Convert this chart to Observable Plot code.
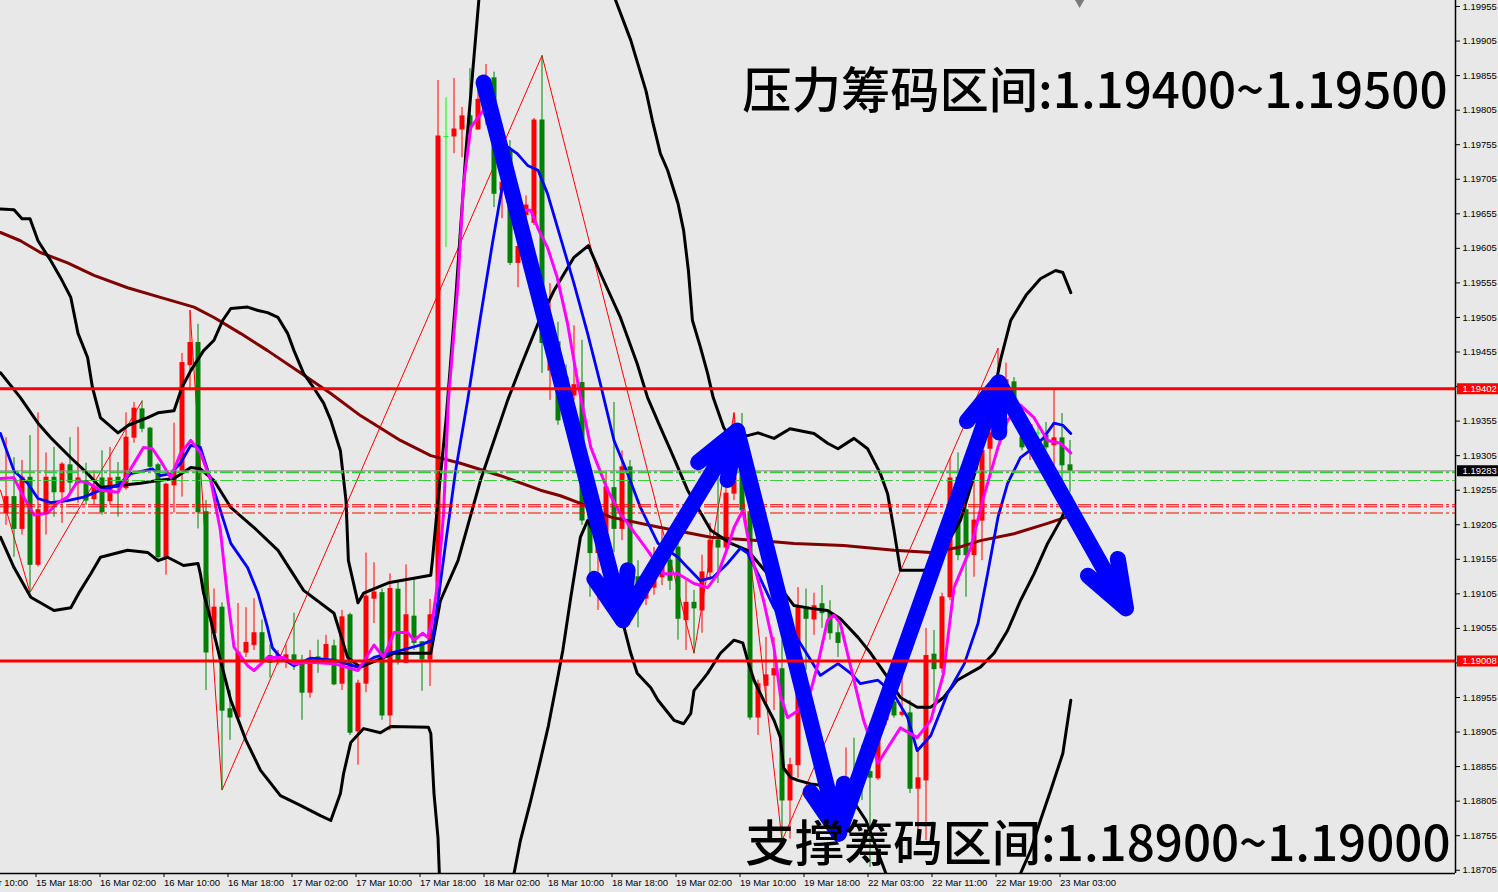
<!DOCTYPE html>
<html><head><meta charset="utf-8">
<script src="https://cdn.jsdelivr.net/npm/d3@7"></script>
<script src="https://cdn.jsdelivr.net/npm/@observablehq/plot@0.6"></script>
<style>
html,body{margin:0;padding:0;background:#e8e8e8;}
#chart{width:1498px;height:892px;overflow:hidden;}
</style></head><body><div id="chart"></div>
<script>
// ---------- DATA ----------
const xTickBars = [-4.5,3.5,11.5,19.5,27.5,35.5,43.5,51.5,59.5,67.5,75.5,83.5,91.5,99.5,107.5,115.5,123.5,131.5];
const xTickLabels = ["15 Mar 10:00","15 Mar 18:00","16 Mar 02:00","16 Mar 10:00","16 Mar 18:00","17 Mar 02:00","17 Mar 10:00","17 Mar 18:00","18 Mar 02:00","18 Mar 10:00","18 Mar 18:00","19 Mar 02:00","19 Mar 10:00","19 Mar 18:00","22 Mar 03:00","22 Mar 11:00","22 Mar 19:00","23 Mar 03:00"];
const yTicks = [1.18705,1.18755,1.18805,1.18855,1.18905,1.18955,1.19005,1.19055,1.19105,1.19155,1.19205,1.19255,1.19305,1.19355,1.19405,1.19455,1.19505,1.19555,1.19605,1.19655,1.19705,1.19755,1.19805,1.19855,1.19905,1.19955];

const open = [1.19222,1.19245,1.19199,1.19273,1.19147,1.19223,1.19273,1.19252,1.19291,1.19265,1.19268,1.19242,1.19272,1.19239,1.19273,1.19258,1.19331,1.19372,1.19344,1.19291,1.19158,1.19262,1.19283,1.19436,1.19468,1.19223,1.19048,1.19085,1.18938,1.18926,1.19020,1.19031,1.19048,1.19015,1.19009,1.19009,1.19016,1.19008,1.18962,1.19013,1.19006,1.19029,1.18975,1.19074,1.18906,1.18975,1.19098,1.19106,1.18929,1.19111,1.19005,1.19072,1.19035,1.19010,1.19103,1.19766,1.19767,1.19777,1.19796,1.19777,1.19797,1.19851,1.19689,1.19747,1.19584,1.19653,1.19642,1.19790,1.19428,1.19469,1.19418,1.19392,1.19410,1.19222,1.19164,1.19194,1.19258,1.19199,1.19288,1.19129,1.19098,1.19114,1.19129,1.19153,1.19172,1.19067,1.19092,1.19081,1.19136,1.19182,1.19172,1.19250,1.19279,1.19223,1.18926,1.18972,1.18987,1.18996,1.18806,1.18857,1.19085,1.19068,1.19090,1.19077,1.19048,1.18832,1.18835,1.18864,1.18847,1.18838,1.18922,1.18948,1.18930,1.18932,1.18823,1.18835,1.19017,1.18997,1.19100,1.19273,1.19226,1.19161,1.19211,1.19315,1.19338,1.19410,1.19411,1.19331,1.19320,1.19337,1.19334,1.19320,1.19330,1.19291];
const high = [1.19331,1.19302,1.19298,1.19334,1.19367,1.19309,1.19317,1.19295,1.19331,1.19346,1.19294,1.19283,1.19312,1.19317,1.19295,1.19367,1.19382,1.19384,1.19346,1.19294,1.19265,1.19352,1.19453,1.19515,1.19495,1.19240,1.19112,1.19092,1.18965,1.19091,1.19085,1.19098,1.19067,1.19031,1.19023,1.19031,1.19077,1.19016,1.19023,1.19038,1.19045,1.19038,1.19081,1.19077,1.18980,1.19164,1.19150,1.19112,1.19134,1.19121,1.19147,1.19126,1.19035,1.19097,1.19848,1.19823,1.19851,1.19809,1.19865,1.19835,1.19871,1.19860,1.19707,1.19761,1.19678,1.19681,1.19793,1.19884,1.19554,1.19498,1.19436,1.19493,1.19472,1.19245,1.19211,1.19279,1.19382,1.19312,1.19298,1.19153,1.19139,1.19172,1.19197,1.19175,1.19182,1.19124,1.19110,1.19161,1.19207,1.19273,1.19269,1.19367,1.19366,1.19240,1.18980,1.19042,1.19042,1.19038,1.18867,1.19114,1.19112,1.19106,1.19117,1.19095,1.19062,1.18882,1.18896,1.18886,1.18875,1.18922,1.18951,1.18965,1.18990,1.18951,1.18882,1.19055,1.19052,1.19106,1.19301,1.19309,1.19269,1.19269,1.19327,1.19356,1.19460,1.19439,1.19418,1.19373,1.19352,1.19349,1.19353,1.19402,1.19366,1.19327];
const low = [1.19204,1.19158,1.19190,1.19107,1.19144,1.19190,1.19216,1.19207,1.19248,1.19236,1.19233,1.19233,1.19219,1.19233,1.19216,1.19255,1.19323,1.19338,1.19283,1.19150,1.19132,1.19222,1.19245,1.19399,1.19199,1.18965,1.19038,1.18821,1.18893,1.18922,1.19013,1.19023,1.19002,1.18983,1.19002,1.18997,1.18994,1.18922,1.18954,1.18990,1.19002,1.18972,1.18965,1.18900,1.18857,1.18962,1.19062,1.18922,1.18907,1.19002,1.19005,1.19023,1.18964,1.18971,1.19095,1.19606,1.19742,1.19736,1.19776,1.19776,1.19783,1.19664,1.19648,1.19580,1.19548,1.19641,1.19638,1.19424,1.19385,1.19349,1.19341,1.19385,1.19204,1.19100,1.19081,1.19182,1.19165,1.19182,1.19103,1.19056,1.19088,1.19103,1.19117,1.19110,1.19038,1.19023,1.19019,1.19048,1.19124,1.19120,1.19168,1.19240,1.19219,1.18922,1.18900,1.18951,1.18936,1.18748,1.18750,1.18838,1.18994,1.19045,1.19055,1.19038,1.19013,1.18821,1.18825,1.18806,1.18709,1.18835,1.18914,1.18925,1.18927,1.18816,1.18748,1.18748,1.18932,1.18990,1.19095,1.19153,1.19100,1.19129,1.19153,1.19279,1.19327,1.19405,1.19370,1.19312,1.19298,1.19327,1.19312,1.19281,1.19259,1.19252];
const close = [1.19245,1.19199,1.19273,1.19147,1.19226,1.19273,1.19252,1.19292,1.19266,1.19272,1.19240,1.19260,1.19223,1.19272,1.19258,1.19331,1.19373,1.19344,1.19289,1.19158,1.19263,1.19283,1.19439,1.19468,1.19223,1.19020,1.19085,1.18936,1.18926,1.19020,1.19034,1.19048,1.19009,1.19005,1.19016,1.19016,1.19006,1.18962,1.19010,1.19006,1.19031,1.18974,1.19071,1.18904,1.18975,1.19101,1.19107,1.18929,1.19112,1.19006,1.19074,1.19034,1.19010,1.19074,1.19767,1.19766,1.19777,1.19796,1.19780,1.19820,1.19833,1.19684,1.19700,1.19584,1.19607,1.19667,1.19790,1.19468,1.19486,1.19356,1.19356,1.19407,1.19211,1.19164,1.19182,1.19259,1.19199,1.19288,1.19139,1.19114,1.19124,1.19143,1.19150,1.19124,1.19069,1.19092,1.19084,1.19136,1.19182,1.19172,1.19250,1.19273,1.19226,1.18926,1.18974,1.18987,1.18996,1.18806,1.18857,1.19085,1.19069,1.19087,1.19077,1.19048,1.19034,1.18839,1.18828,1.18842,1.18839,1.18904,1.18932,1.18929,1.18933,1.18823,1.18838,1.19015,1.18996,1.19100,1.19272,1.19161,1.19161,1.19211,1.19312,1.19337,1.19407,1.19414,1.19378,1.19317,1.19349,1.19337,1.19317,1.19330,1.19291,1.19283];

const bbUpper = [[-0.69,1.19662],[1,1.19661],[2,1.19648],[3,1.19648],[4,1.19616],[5.6,1.19587],[6.8,1.19563],[8.1,1.19534],[9,1.19482],[10.2,1.19447],[10.8,1.19404],[11.8,1.19360],[14,1.19338],[15.3,1.19349],[17.7,1.19360],[19,1.19367],[21,1.19370],[22,1.19404],[23.1,1.19428],[24.7,1.19457],[26,1.19472],[27.1,1.19501],[28.1,1.19518],[30.2,1.19520],[31.5,1.19515],[32.7,1.19512],[34,1.19505],[35.2,1.19482],[36,1.19457],[37.2,1.19424],[38.7,1.19399],[39.7,1.19381],[40.6,1.19356],[41.8,1.19312],[42.5,1.19240],[42.8,1.19153],[44,1.19092],[44.7,1.19106],[47.8,1.19121],[53.1,1.19132],[53.3,1.19153],[54,1.19240],[55,1.19356],[56.2,1.19530],[57.5,1.19747],[59.1,1.19964],[60,1.2010],[75.3,1.2010],[76.2,1.19964],[78.1,1.19906],[80,1.19833],[80.8,1.19790],[81.8,1.19742],[82.7,1.19718],[84,1.19670],[84.7,1.19631],[85.3,1.19573],[85.8,1.19501],[86.8,1.19462],[87.7,1.19424],[88.4,1.19389],[89.7,1.19346],[90.2,1.19337],[92.7,1.19334],[94,1.19338],[96,1.19330],[98,1.19344],[101,1.19337],[102.7,1.19323],[104,1.19315],[106,1.19330],[107.7,1.19315],[109.3,1.19279],[110.2,1.19250],[111,1.19197],[111.8,1.19139],[113.1,1.19139],[114.7,1.19139],[115.6,1.19143],[116.8,1.19161],[119.3,1.19211],[121.2,1.19283],[123.1,1.19370],[124.3,1.19443],[125.6,1.19501],[127.5,1.19537],[129.3,1.19561],[131.2,1.19573],[132.1,1.19570],[133.1,1.19541]];
const bbMiddle = [[-0.69,1.19425],[1.8,1.19389],[4,1.19352],[5.6,1.19331],[8.1,1.19302],[10.2,1.19279],[11.8,1.19259],[16.8,1.19265],[19,1.19269],[21,1.19272],[23.1,1.19288],[24.3,1.19286],[26,1.19269],[28.1,1.19230],[31,1.19201],[34,1.19168],[37.2,1.19110],[41,1.19077],[42.7,1.19013],[44.3,1.18999],[48.5,1.19019],[53.1,1.19019],[54.3,1.19095],[56.5,1.19153],[59.3,1.19269],[62.7,1.19385],[64.3,1.19433],[66.5,1.19496],[68.5,1.19544],[71,1.19592],[72.8,1.19609],[74.3,1.19569],[76.8,1.19505],[78.9,1.19438],[80.2,1.19389],[81.8,1.19346],[83.1,1.19312],[85.2,1.19255],[88.1,1.19197],[90.6,1.19178],[92.7,1.19168],[95.2,1.19134],[96.8,1.19114],[98.5,1.19088],[100.6,1.19084],[102.7,1.19081],[104.3,1.19069],[106.5,1.19042],[108.1,1.19019],[110.2,1.18984],[111.8,1.18955],[113.9,1.18941],[115.6,1.18941],[117.2,1.18955],[118.9,1.18980],[121.8,1.18999],[123.5,1.19019],[125.2,1.19052],[126.8,1.19095],[128.5,1.19134],[130.2,1.19178],[131.8,1.19211],[133.1,1.19245]];
const bbLower = [[-0.69,1.19187],[1,1.19143],[3.1,1.19100],[6,1.19081],[8.1,1.19085],[9.1,1.19106],[10.6,1.19134],[11.8,1.19158],[15.2,1.19168],[17.7,1.19165],[19,1.19153],[20.2,1.19158],[22.2,1.19146],[24,1.19149],[24.3,1.19134],[24.7,1.19106],[25.6,1.19067],[26.8,1.19009],[28.1,1.18951],[30,1.18893],[31.8,1.18850],[34.3,1.18813],[36.8,1.18799],[39.3,1.18784],[40.6,1.18777],[41.8,1.18816],[42.2,1.18845],[43.1,1.18890],[44.7,1.18910],[46.8,1.18904],[48.1,1.18913],[52.8,1.18912],[53.1,1.18903],[53.5,1.18816],[54,1.18752],[54.2,1.18690],[55,1.1855],[62.5,1.1855],[63.5,1.18700],[64.3,1.18748],[65.6,1.18806],[66.8,1.18864],[67.8,1.18914],[68.9,1.18980],[69.6,1.19023],[70.6,1.19100],[71.8,1.19187],[72.7,1.19211],[74.3,1.19175],[76.8,1.19077],[78.1,1.19019],[78.9,1.18990],[80.6,1.18969],[81.5,1.18951],[83.5,1.18922],[84.7,1.18917],[85.6,1.18932],[86,1.18965],[87.7,1.18990],[89.3,1.19019],[91,1.19038],[92.1,1.19034],[92.7,1.19009],[93.5,1.18980],[94.7,1.18951],[96,1.18922],[96.8,1.18897],[97.2,1.18853],[98.1,1.18839],[99,1.18835],[100.6,1.18830],[101.8,1.18828],[105,1.18821],[107.5,1.18777],[110,1.18700],[111.5,1.1855],[125.5,1.1855],[126.8,1.18700],[128.1,1.18734],[129.3,1.18777],[130.6,1.18821],[132.1,1.18874],[133.1,1.18951]];
const maSlow = [[-0.69,1.19628],[1.8,1.19616],[4.3,1.19599],[7.7,1.19584],[11,1.19566],[15.2,1.19548],[19.3,1.19534],[23.5,1.19520],[26,1.19505],[29.3,1.19482],[32.7,1.19457],[36.8,1.19425],[40.6,1.19395],[44.3,1.19363],[49.3,1.19327],[53.1,1.19305],[56.8,1.19294],[61.8,1.19276],[66.8,1.19255],[69.3,1.19247],[71.8,1.19236],[75.6,1.19216],[81.8,1.19201],[88.1,1.19187],[94.3,1.19182],[98.5,1.19178],[104.7,1.19175],[111,1.19168],[115.6,1.19165],[119,1.19172],[121.8,1.19182],[126,1.19192],[130.2,1.19207],[132.5,1.19216]];
const maMid = [[-0.69,1.19337],[1,1.19283],[2.7,1.19265],[4,1.19243],[5.6,1.19237],[7.7,1.19240],[9.7,1.19245],[11.8,1.19255],[14,1.19262],[15.6,1.19279],[17.2,1.19283],[18.3,1.19286],[19.3,1.19276],[20.6,1.19279],[21.8,1.19294],[23.1,1.19320],[24.3,1.19317],[26,1.19255],[28.1,1.19178],[30.2,1.19143],[31.5,1.19106],[32.7,1.19056],[33.3,1.19027],[34.3,1.19013],[36,1.19001],[38.1,1.19012],[41,1.19009],[44,1.18999],[46,1.19013],[49.3,1.19023],[51.8,1.19031],[53.3,1.19038],[54,1.19095],[55,1.19182],[56.2,1.19283],[57.7,1.19385],[59.3,1.19505],[60.8,1.19612],[62.1,1.19699],[62.8,1.19751],[63.9,1.19742],[65.2,1.19725],[66.5,1.19718],[67.7,1.19684],[69.3,1.19621],[71,1.19554],[72.7,1.19482],[74.3,1.19409],[76,1.19327],[77.7,1.19279],[79.3,1.19230],[81.5,1.19178],[84,1.19158],[85.2,1.19143],[86.8,1.19124],[88.4,1.19129],[90.2,1.19149],[91.8,1.19171],[92.7,1.19164],[94,1.19134],[96,1.19085],[98.5,1.19048],[100.6,1.19009],[101.8,1.18987],[104,1.19004],[105.6,1.18990],[106.8,1.18975],[109,1.18980],[110.9,1.18961],[112.7,1.18926],[113.9,1.18878],[115.6,1.18900],[117.7,1.18961],[119.8,1.19004],[121.5,1.19062],[122.7,1.19134],[124,1.19216],[125.2,1.19265],[126.8,1.19302],[128.5,1.19317],[129.7,1.19331],[131,1.19352],[132.1,1.19349],[133.1,1.19337]];
const maFast = [[-0.69,1.19272],[1,1.19273],[2.2,1.19245],[3.5,1.19219],[5.2,1.19222],[6.5,1.19237],[7.7,1.19245],[9,1.19269],[10.2,1.19266],[11.8,1.19255],[14,1.19252],[15.6,1.19286],[17.2,1.19317],[18.3,1.19315],[19.3,1.19298],[20.6,1.19273],[21.8,1.19308],[23.1,1.19327],[24.3,1.19309],[25.6,1.19269],[26.8,1.19197],[27.7,1.19100],[28.5,1.19028],[30.2,1.19001],[31,1.18994],[32.7,1.19013],[34.7,1.19013],[36,1.19004],[38.1,1.19006],[41,1.19004],[44,1.18994],[46,1.19031],[47.2,1.19013],[48.5,1.19049],[50.2,1.19049],[51,1.19038],[52.1,1.19048],[52.7,1.19042],[53.3,1.19067],[54,1.19124],[54.7,1.19222],[55.3,1.19385],[56.5,1.19554],[57.2,1.19699],[58.1,1.19780],[59.7,1.19805],[61.5,1.19771],[63.1,1.19718],[64.3,1.19660],[65.6,1.19660],[66.6,1.19631],[67.7,1.19606],[68.9,1.19563],[70.2,1.19496],[71.5,1.19409],[73.1,1.19317],[75.2,1.19255],[76.8,1.19221],[80.2,1.19168],[82.2,1.19134],[84,1.19134],[86,1.19120],[87.7,1.19114],[89,1.19134],[90.2,1.19172],[91,1.19201],[92.1,1.19226],[93.1,1.19164],[94.7,1.19095],[96,1.19027],[96.8,1.18958],[97.7,1.18926],[99,1.18936],[100.6,1.18965],[101.5,1.19004],[102.7,1.19067],[103.5,1.19074],[104.3,1.19062],[105.6,1.18999],[107.2,1.18922],[109,1.18860],[110.2,1.18882],[111.8,1.18911],[113.9,1.18897],[115.6,1.18922],[117.2,1.18990],[118.5,1.19114],[120.6,1.19172],[122.2,1.19245],[124,1.19317],[125.2,1.19356],[126.8,1.19378],[128.5,1.19360],[130.2,1.19327],[131.8,1.19323],[133.1,1.19309]];
const zigzag = [[-0.69,1.19255],[3,1.19107],[17,1.19384],[NaN,NaN],[23,1.19515],[27,1.18821],[67,1.19884],[86,1.19019],[91,1.19367],[97,1.18748],[124,1.19460]];

const keyLevels = [1.19402, 1.19008];
const bidPrice = [1.19283];
const greenLevels = [1.19281];
const greenLevelsThin = [1.19269];
const redDashLevels = [1.19234, 1.19231, 1.19222];
const priceTags = [1.19402, 1.19283, 1.19008];
const shiftMarkerBar = [134.2];

const arrowFromBar = [59.7, 77.1, 91.4, 104.1, 124.1];
const arrowFromPrice = [1.19845, 1.19067, 1.19341, 1.18758, 1.19411];
const arrowToBar = [77.1, 91.4, 104.1, 124.1, 140];
const arrowToPrice = [1.19067, 1.19341, 1.18758, 1.19411, 1.19084];

const noteTop = "压力筹码区间:1.19400~1.19500";
const noteBottom = "支撑筹码区间:1.18900~1.19000";

// ---------- CHART ----------
const candles = open.map((o, i) => ({i, o, h: high[i], l: low[i], c: close[i]}));
const candleColor = d => d.c > d.o ? "#ff0000" : d.c < d.o ? "#008000" : "#00ff00";
const arrows = arrowFromBar.map((b, i) => ({x1: b, y1: arrowFromPrice[i], x2: arrowToBar[i], y2: arrowToPrice[i]}));
const xDomain = [-0.6875, 181.1875];
const yDomain = [1.187003, 1.199637];
const ln = (data, stroke, sw) => Plot.line(data, {x: d => d[0], y: d => d[1], stroke, strokeWidth: sw, clip: true});
const dash = "13,3,3,3";
const noteFont = "'Noto Sans CJK SC', sans-serif";

const chart = Plot.plot({
  width: 1498, height: 892,
  marginLeft: 0, marginRight: 43, marginTop: 0, marginBottom: 19,
  style: {background: "#e8e8e8", fontFamily: "'Liberation Sans', Arial, sans-serif", fontSize: "9.5px", color: "#000", overflow: "hidden"},
  x: {domain: xDomain, axis: null},
  y: {domain: yDomain, axis: null},
  marks: [
    ln(zigzag, "#ff0000", 1),
    Plot.ruleX(candles, {x: "i", y1: "h", y2: "l", stroke: candleColor, strokeWidth: 1, clip: true}),
    Plot.ruleX(candles, {x: "i", y1: d => Math.max(d.o, d.c), y2: d => Math.min(d.o, d.c), stroke: candleColor, strokeWidth: 5, insetTop: -0.5, insetBottom: -0.5, clip: true}),
    ln(maSlow, "#800000", 3),
    ln(bbUpper, "#000000", 3),
    ln(bbMiddle, "#000000", 3),
    ln(bbLower, "#000000", 3),
    ln(maMid, "#0000ff", 2.8),
    ln(maFast, "#ff00ff", 3),
    Plot.ruleY(bidPrice, {stroke: "#8c8c8c", strokeWidth: 1}),
    Plot.ruleY(greenLevels, {stroke: "#32cd32", strokeWidth: 2, strokeDasharray: dash}),
    Plot.ruleY(greenLevelsThin, {stroke: "#32cd32", strokeWidth: 1, strokeDasharray: dash}),
    Plot.ruleY(redDashLevels, {stroke: "#ff0000", strokeWidth: 1, strokeDasharray: dash}),
    Plot.arrow(arrows, {x1: "x1", y1: "y1", x2: "x2", y2: "y2", stroke: "#0000ff", strokeWidth: 16, headLength: 4.7, headAngle: 40, strokeLinecap: "round", strokeLinejoin: "round"}),
    Plot.ruleY(keyLevels, {stroke: "#ff0000", strokeWidth: 3}),
    Plot.text([noteTop], {text: d => d, frameAnchor: "top-right", dx: -8, dy: 92, textAnchor: "end", lineAnchor: "middle", fontSize: 49.3, fontWeight: 500, fontFamily: noteFont, fill: "#000"}),
    Plot.text([noteBottom], {text: d => d, frameAnchor: "bottom-right", dx: -5, dy: -28, textAnchor: "end", lineAnchor: "middle", fontSize: 49.3, fontWeight: 500, fontFamily: noteFont, fill: "#000"}),
    Plot.dot(shiftMarkerBar, {x: d => d, frameAnchor: "top", dy: 2, symbol: "triangle", rotate: 180, r: 3.5, fill: "#7a7a7a", stroke: null}),
    // axes
    Plot.ruleX([xDomain[1]], {stroke: "#000", strokeWidth: 1.5}),
    Plot.ruleY([yDomain[0]], {stroke: "#000", strokeWidth: 1.5}),
    Plot.axisY(yTicks, {anchor: "right", tickSize: 4, tickPadding: 3, tickFormat: d => d.toFixed(5), fontSize: 9.5}),
    Plot.axisX(xTickBars, {anchor: "bottom", tickSize: 4, tickPadding: 2, tickFormat: d => xTickLabels[xTickBars.indexOf(d)], textAnchor: "start", dx: 2, fontSize: 9.5}),
    Plot.ruleY(priceTags, {insetLeft: 1457, insetRight: -43, stroke: d => bidPrice.includes(d) ? "#000000" : "#ff0000", strokeWidth: 11}),
    Plot.text(priceTags, {y: d => d, text: d => d.toFixed(5), frameAnchor: "right", dx: 7, textAnchor: "start", fill: "#ffffff", fontSize: 9.5})
  ]
});
document.getElementById("chart").appendChild(chart);
</script></body></html>
